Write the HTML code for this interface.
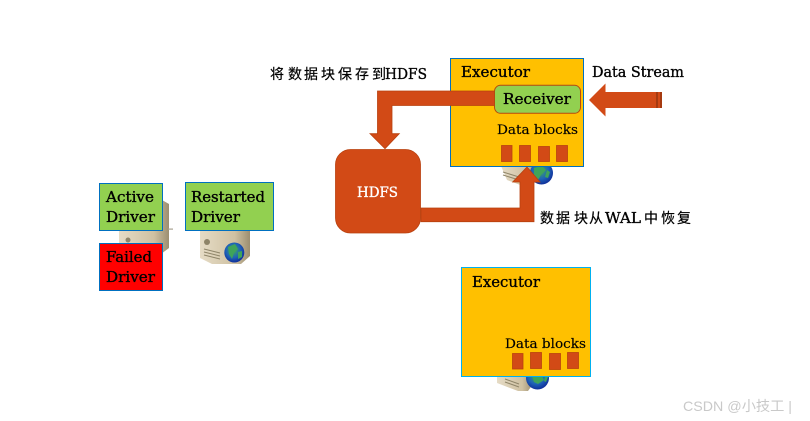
<!DOCTYPE html>
<html>
<head>
<meta charset="utf-8">
<style>
html,body{margin:0;padding:0;background:#fff;width:810px;height:421px;overflow:hidden}
svg{display:block}
text{font-family:"DejaVu Serif","Liberation Serif",serif;fill:#000;stroke:#000;stroke-width:.35px}
.c{font-family:"Noto Sans CJK SC",sans-serif;font-size:14px;stroke-width:.2px}
</style>
</head>
<body>
<svg width="810" height="421" viewBox="0 0 810 421" xmlns="http://www.w3.org/2000/svg">
<defs>
<linearGradient id="b" x1="0" y1="0" x2="1" y2="0"><stop offset="0" stop-color="#e6dcc6"/><stop offset=".7" stop-color="#cfc1a2"/><stop offset="1" stop-color="#9c8e70"/></linearGradient>
<radialGradient id="g" cx=".45" cy=".4" r=".6"><stop offset="0" stop-color="#3fae5a"/><stop offset=".6" stop-color="#1f63b8"/><stop offset="1" stop-color="#10309a"/></radialGradient>
</defs>

<!-- left server behind -->
<path d="M119 228h43v-28l7 4v44l-8 6h-2v-11h-40z" fill="url(#b)"/>
<rect x="168" y="228.500" width="5" height="1.200" fill="#a9a292"/>
<circle cx="128" cy="240" r="2.500" fill="#8e8468"/>

<!-- restarted server -->
<path d="M200 230h50v26l-9 8h-29l-12-6z" fill="url(#b)"/>
<rect x="204" y="239" width="6" height="6" rx="3" fill="#8e8468"/>
<path d="M204 249l16 4M204 252l16 4M204 255l16 4" stroke="#8f8569" stroke-width="1"/>
<circle cx="234.300" cy="252.500" r="10" fill="url(#g)"/>
<path d="M228 247l7-3 3 5-4 4-2 6-3-5zM238 252l4-1 0 6-4 2z" fill="#3fa45a"/>

<!-- exec 1 server -->
<path d="M501 166h36v14l-6 6-8 0-16-6z" fill="url(#b)"/>
<path d="M503 172l16 5M503 175l16 5" stroke="#8f8569" stroke-width="1"/>
<circle cx="541.500" cy="173" r="11.500" fill="url(#g)"/>
<path d="M534 168l8-2 4 4-5 5-3 5-4-5zM547 170l3 2-2 6-3-1z" fill="#3fa45a"/>

<!-- exec 2 server -->
<path d="M497 376h36v8l-5 7h-10l-21-8z" fill="url(#b)"/>
<path d="M505 379l14 5M505 382l14 5" stroke="#8f8569" stroke-width="1"/>
<circle cx="537.500" cy="378" r="11.500" fill="url(#g)"/>
<path d="M532 376h10l2 4-6 4-4-2zM545 376l3 1-2 5-2-1z" fill="#3fa45a"/>

<!-- Executor 1 -->
<rect x="450.500" y="58.500" width="133" height="108" fill="#ffc000" stroke="#0070c0" stroke-width="1"/>
<!-- Arrow to HDFS -->
<path d="M495 91H377.500V133.700H370L385 148.700L399.300 133.700H392V105.500H495Z" fill="#d24a16" stroke="#b8410f" stroke-width=".8"/>
<!-- Receiver -->
<rect x="494.500" y="85.300" width="86" height="28" rx="6" fill="#92d050" stroke="#b5490f" stroke-width="1"/>
<text x="503" y="104" font-size="15" textLength="68" lengthAdjust="spacingAndGlyphs">Receiver</text>
<text x="461" y="77" font-size="15" textLength="69" lengthAdjust="spacingAndGlyphs">Executor</text>
<text x="497" y="134" font-size="13" textLength="81" lengthAdjust="spacingAndGlyphs" style="stroke-width:.15px">Data blocks</text>
<g fill="#d24a16" stroke="#b8410f" stroke-width=".8">
<rect x="501.500" y="145.500" width="10.500" height="16"/>
<rect x="519.500" y="145.500" width="11" height="16"/>
<rect x="538.500" y="146.500" width="11" height="15"/>
<rect x="556.500" y="145.500" width="11" height="16"/>
</g>

<!-- Data stream arrow -->
<path d="M589 100L605.500 83.500V92H662V108H605.500V116.500Z" fill="#d24a16"/>
<rect x="656" y="92" width="2" height="16" fill="#a63a10"/>
<rect x="660" y="92" width="2" height="16" fill="#a63a10"/>
<text x="592" y="77" font-size="15" textLength="92" lengthAdjust="spacingAndGlyphs">Data Stream</text>

<!-- HDFS -->
<rect x="335.500" y="149.500" width="85" height="83.500" rx="15" fill="#d24a16" stroke="#b8410f" stroke-width=".8"/>
<text x="357" y="197" font-size="14" textLength="41" lengthAdjust="spacingAndGlyphs" style="fill:#fff;stroke:#fff">HDFS</text>

<!-- Arrow from HDFS -->
<path d="M421 208H520V182H512.700L527 167L540 182H534V221.700H421Z" fill="#d24a16" stroke="#b8410f" stroke-width=".8"/>

<!-- Labels CJK -->
<text class="c" x="270 288 304 321 338 355 372" y="79">将数据块保存到</text>
<text x="385" y="79" font-size="15" textLength="42" lengthAdjust="spacingAndGlyphs">HDFS</text>
<text class="c" x="540 556 574 589" y="223">数据块从</text>
<text x="605" y="223" font-size="15" textLength="36" lengthAdjust="spacingAndGlyphs">WAL</text>
<text class="c" x="644 661 677" y="223">中恢复</text>

<!-- Driver boxes -->
<rect x="99.500" y="183.500" width="63" height="47" fill="#92d050" stroke="#0070c0" stroke-width="1"/>
<text x="106" y="202" font-size="15" textLength="48" lengthAdjust="spacingAndGlyphs">Active</text>
<text x="106" y="222" font-size="15" textLength="49" lengthAdjust="spacingAndGlyphs">Driver</text>
<rect x="99.500" y="243.500" width="63" height="47" fill="#ff0000" stroke="#0070c0" stroke-width="1"/>
<text x="106" y="262" font-size="15" textLength="46" lengthAdjust="spacingAndGlyphs">Failed</text>
<text x="106" y="282" font-size="15" textLength="49" lengthAdjust="spacingAndGlyphs">Driver</text>
<rect x="185.500" y="182.500" width="88" height="48" fill="#92d050" stroke="#0070c0" stroke-width="1"/>
<text x="191" y="202" font-size="15" textLength="74" lengthAdjust="spacingAndGlyphs">Restarted</text>
<text x="191" y="222" font-size="15" textLength="49" lengthAdjust="spacingAndGlyphs">Driver</text>

<!-- Executor 2 -->
<rect x="461.500" y="267.500" width="129" height="109" fill="#ffc000" stroke="#00b0f0" stroke-width="1"/>
<text x="472" y="287" font-size="15" textLength="68" lengthAdjust="spacingAndGlyphs">Executor</text>
<text x="505" y="348" font-size="13" textLength="81" lengthAdjust="spacingAndGlyphs" style="stroke-width:.15px">Data blocks</text>
<g fill="#d24a16" stroke="#b8410f" stroke-width=".8">
<rect x="512.500" y="353.500" width="10.500" height="15.500"/>
<rect x="530.500" y="352.500" width="11" height="16"/>
<rect x="549.500" y="353.500" width="11" height="16"/>
<rect x="567.500" y="352.500" width="11" height="16"/>
</g>

<!-- Watermark -->
<text x="683" y="411" font-size="14" textLength="109" style="font-family:'Liberation Sans','Noto Sans CJK SC',sans-serif;fill:#c9c9c9;stroke:none" lengthAdjust="spacingAndGlyphs">CSDN @小技工 |</text>
</svg>
</body>
</html>
